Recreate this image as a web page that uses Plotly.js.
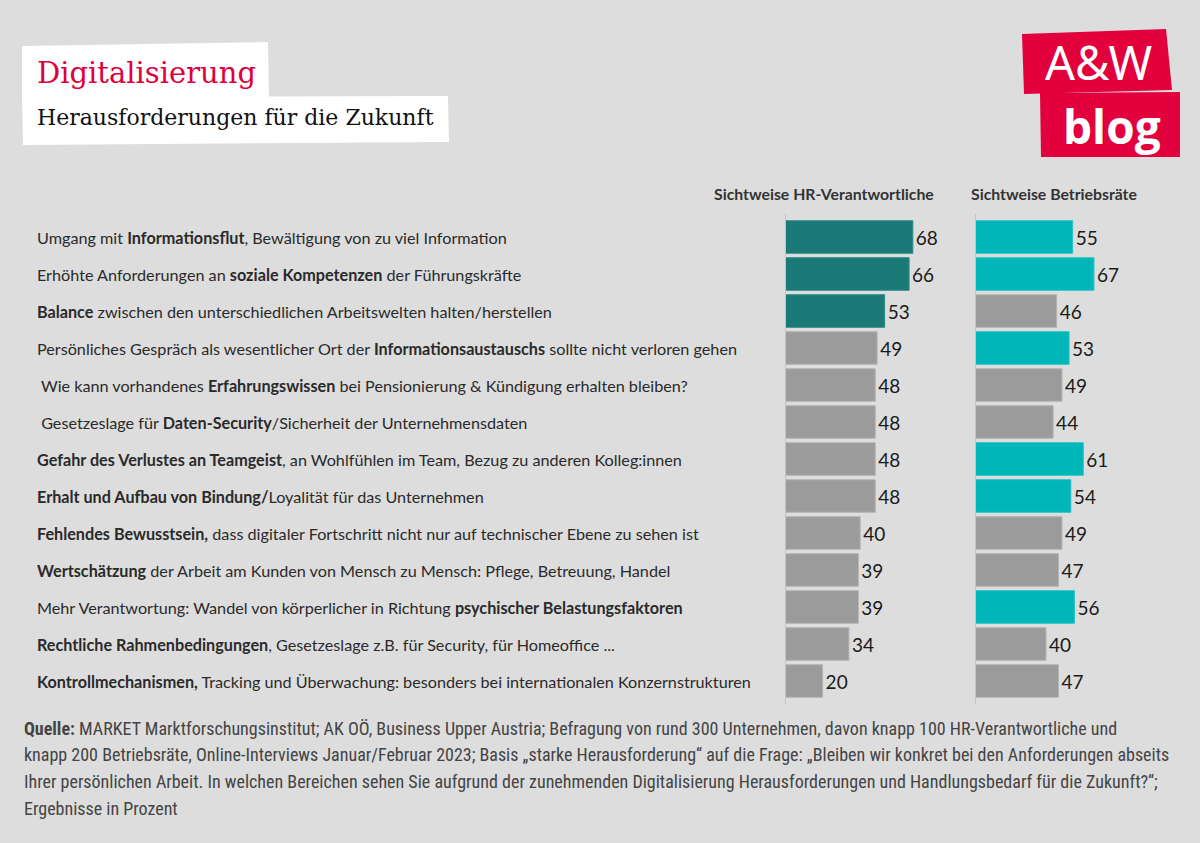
<!DOCTYPE html>
<html><head><meta charset="utf-8">
<script src="https://cdn.plot.ly/plotly-3.0.1.min.js"></script>
<style>html,body{margin:0;padding:0;background:#dddddd;}#chart{width:1200px;height:843px;}</style>
</head><body><div id="chart"></div>
<script>
const categories = [
  "Umgang mit <b>Informationsflut</b>, Bewältigung von zu viel Information",
  "Erhöhte Anforderungen an <b>soziale Kompetenzen</b> der Führungskräfte",
  "<b>Balance</b> zwischen den unterschiedlichen Arbeitswelten halten/herstellen",
  "Persönliches Gespräch als wesentlicher Ort der <b>Informationsaustauschs</b> sollte nicht verloren gehen",
  " Wie kann vorhandenes <b>Erfahrungswissen</b> bei Pensionierung & Kündigung erhalten bleiben?",
  " Gesetzeslage für <b>Daten-Security</b>/Sicherheit der Unternehmensdaten",
  "<b>Gefahr des Verlustes an Teamgeist</b>, an Wohlfühlen im Team, Bezug zu anderen Kolleg:innen",
  "<b>Erhalt und Aufbau von Bindung/</b>Loyalität für das Unternehmen",
  "<b>Fehlendes Bewusstsein,</b> dass digitaler Fortschritt nicht nur auf technischer Ebene zu sehen ist",
  "<b>Wertschätzung</b> der Arbeit am Kunden von Mensch zu Mensch: Pflege, Betreuung, Handel",
  "Mehr Verantwortung: Wandel von körperlicher in Richtung <b>psychischer Belastungsfaktoren</b>",
  "<b>Rechtliche Rahmenbedingungen</b>, Gesetzeslage z.B. für Security, für Homeoffice ...",
  "<b>Kontrollmechanismen,</b> Tracking und Überwachung: besonders bei internationalen Konzernstrukturen"
];
const hrValues = [68, 66, 53, 49, 48, 48, 48, 48, 40, 39, 39, 34, 20];
const brValues = [55, 67, 46, 53, 49, 44, 61, 54, 49, 47, 56, 40, 47];
const hrHighlight = [1,1,1,0,0,0,0,0,0,0,0,0,0];
const brHighlight = [1,1,0,1,0,0,1,1,0,0,1,0,0];
const seriesNames = ["Sichtweise HR-Verantwortliche", "Sichtweise Betriebsräte"];

const W = 1200, H = 843;
const px = v => v / W, py = v => 1 - v / H;
const GRAY = "#9b9b9b", GRAYLINE = "#b4b4b4";
const HRCOL = "#1b7a77", HRLINE = "#2b8c88";
const BRCOL = "#00b6b9", BRLINE = "#22c4c6";
const ids = categories.map((c, i) => "c" + i);
const labelFont = "Lato, 'Noto Sans', sans-serif";

const traceHR = {
  type: "bar", orientation: "h", name: seriesNames[0],
  y: ids, x: hrValues, xaxis: "x", yaxis: "y",
  marker: { color: hrHighlight.map(h => h ? HRCOL : GRAY),
            line: { color: hrHighlight.map(h => h ? HRLINE : GRAYLINE), width: 1 } },
  text: hrValues.map(String), textposition: "outside", cliponaxis: false,
  textfont: { family: labelFont, size: 19, color: "#1a1a1a" },
  hoverinfo: "x"
};
const traceBR = {
  type: "bar", orientation: "h", name: seriesNames[1],
  y: ids, x: brValues, xaxis: "x2", yaxis: "y",
  marker: { color: brHighlight.map(h => h ? BRCOL : GRAY),
            line: { color: brHighlight.map(h => h ? BRLINE : GRAYLINE), width: 1 } },
  text: brValues.map(String), textposition: "outside", cliponaxis: false,
  textfont: { family: labelFont, size: 19, color: "#1a1a1a" },
  hoverinfo: "x"
};

const annotations = categories.map((c, i) => ({
  text: c, xref: "paper", x: px(35), xanchor: "left", yref: "y", y: ids[i],
  showarrow: false, font: { family: labelFont, size: 16.2, color: "#2a2a2a" }
}));
annotations.push(
  { text: "<b>" + seriesNames[0] + "</b>", xref: "paper", yref: "paper", x: px(712), y: py(193),
    xanchor: "left", yanchor: "middle", showarrow: false, font: { family: labelFont, size: 15.8, color: "#333" } },
  { text: "<b>" + seriesNames[1] + "</b>", xref: "paper", yref: "paper", x: px(969), y: py(193),
    xanchor: "left", yanchor: "middle", showarrow: false, font: { family: labelFont, size: 15.8, color: "#333" } },
  { text: "Digitalisierung", xref: "paper", yref: "paper", x: px(35), y: py(73),
    xanchor: "left", yanchor: "middle", showarrow: false, font: { family: "'DejaVu Serif', serif", size: 29, color: "#e0003c" } },
  { text: "Herausforderungen für die Zukunft", xref: "paper", yref: "paper", x: px(35), y: py(117),
    xanchor: "left", yanchor: "middle", showarrow: false, font: { family: "'DejaVu Serif', serif", size: 22, color: "#111" } },
  { text: "A&W", xref: "paper", yref: "paper", x: px(1098), y: py(62),
    xanchor: "center", yanchor: "middle", showarrow: false, font: { family: "'Noto Sans', sans-serif", size: 47, color: "#ffffff" } },
  { text: "<b>blog</b>", xref: "paper", yref: "paper", x: px(1112), y: py(126),
    xanchor: "center", yanchor: "middle", showarrow: false, font: { family: "'Open Sans', sans-serif", size: 46, color: "#ffffff" } }
);
const foot = [
  "<b>Quelle:</b> MARKET Marktforschungsinstitut; AK OÖ, Business Upper Austria; Befragung von rund 300 Unternehmen, davon knapp 100 HR-Verantwortliche und",
  "knapp 200 Betriebsräte, Online-Interviews Januar/Februar 2023; Basis „starke Herausforderung“ auf die Frage: „Bleiben wir konkret bei den Anforderungen abseits",
  "Ihrer persönlichen Arbeit. In welchen Bereichen sehen Sie aufgrund der zunehmenden Digitalisierung Herausforderungen und Handlungsbedarf für die Zukunft?“;",
  "Ergebnisse in Prozent"
];
foot.forEach((t, i) => annotations.push({
  text: t, xref: "paper", yref: "paper", x: px(22), y: py(728 + i * 26.7), xanchor: "left", yanchor: "middle",
  showarrow: false, font: { family: "'Liberation Sans Narrow', 'Roboto Condensed', sans-serif", size: 18, color: "#444" }
}));

const shapes = [
  { type: "path", xref: "paper", yref: "paper", layer: "below",
    path: `M ${px(22)} ${py(46)} L ${px(268)} ${py(42)} L ${px(269)} ${py(98)} L ${px(22)} ${py(98)} Z`,
    fillcolor: "#ffffff", line: { width: 0 } },
  { type: "path", xref: "paper", yref: "paper", layer: "below",
    path: `M ${px(22)} ${py(97)} L ${px(448)} ${py(96)} L ${px(449)} ${py(142)} L ${px(23)} ${py(145)} Z`,
    fillcolor: "#ffffff", line: { width: 0 } },
  { type: "path", xref: "paper", yref: "paper", layer: "below",
    path: `M ${px(1022)} ${py(34)} L ${px(1166)} ${py(29)} L ${px(1172)} ${py(90)} L ${px(1024)} ${py(94)} Z`,
    fillcolor: "#e2003d", line: { width: 0 } },
  { type: "path", xref: "paper", yref: "paper", layer: "below",
    path: `M ${px(1040)} ${py(93)} L ${px(1180)} ${py(92)} L ${px(1180)} ${py(157)} L ${px(1041)} ${py(157)} Z`,
    fillcolor: "#e2003d", line: { width: 0 } },
  { type: "line", xref: "x", x0: 0, x1: 0, yref: "y domain", y0: -0.01, y1: 1.01, layer: "above",
    line: { color: "#c2c2c2", width: 2 } },
  { type: "line", xref: "x2", x0: 0, x1: 0, yref: "y domain", y0: -0.01, y1: 1.01, layer: "above",
    line: { color: "#c2c2c2", width: 2 } }
];

const layout = {
  width: W, height: H, margin: { l: 0, r: 0, t: 0, b: 0 },
  paper_bgcolor: "#dddddd", plot_bgcolor: "rgba(0,0,0,0)",
  showlegend: false, bargap: 0.12,
  xaxis: { domain: [px(785), px(785 + 80 * 1.88)], range: [0, 80], visible: false, fixedrange: true },
  xaxis2: { domain: [px(975), px(975 + 120 * 1.775)], range: [0, 120], visible: false, fixedrange: true, anchor: "y" },
  yaxis: { domain: [py(699.5), py(218.5)], type: "category", autorange: "reversed",
           showticklabels: false, showgrid: false, zeroline: false, showline: false, fixedrange: true },
  annotations, shapes
};
Plotly.newPlot("chart", [traceHR, traceBR], layout, { displayModeBar: false, staticPlot: true });
</script></body></html>
